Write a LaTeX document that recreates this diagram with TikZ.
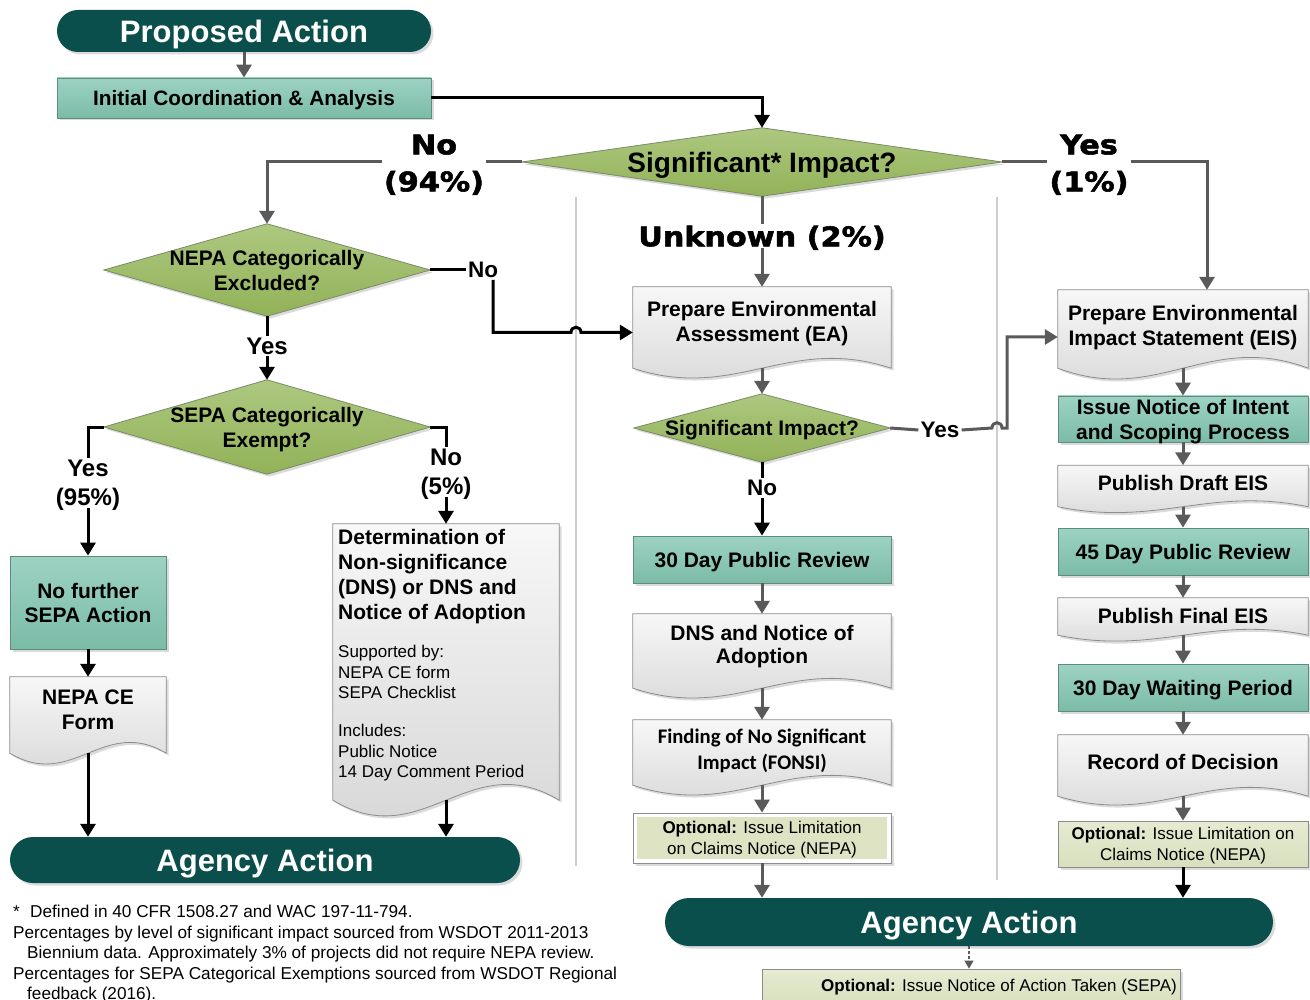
\documentclass[tikz,border=0pt]{standalone}
\usepackage{fontspec}
\setmainfont{Liberation Sans}
\newfontfamily\heavyfont[FakeStretch=1.12,FakeBold=2]{DejaVu Sans}
\newfontfamily\calfont{Carlito}
\usetikzlibrary{arrows.meta,shadows,backgrounds,calc}

\definecolor{dteal}{HTML}{0B4F4C}
\definecolor{tealA}{HTML}{9DD2C2}
\definecolor{tealB}{HTML}{7BBCA7}
\definecolor{tealE}{HTML}{5E8C80}
\definecolor{grnA}{HTML}{ADC880}
\definecolor{grnB}{HTML}{92B258}
\definecolor{grnE}{HTML}{7A8A66}
\definecolor{docA}{HTML}{F7F7F7}
\definecolor{docB}{HTML}{D5D5D5}
\definecolor{docE}{HTML}{8C8C8C}
\definecolor{optA}{HTML}{E6EBD2}
\definecolor{optB}{HTML}{D8DFBD}
\definecolor{optF}{HTML}{DDE3C3}
\definecolor{arrG}{HTML}{5A5A5A}
\definecolor{sepG}{HTML}{CDCDCD}

\newcommand\fsz[2]{\fontsize{#1}{#2}\selectfont}

\tikzset{
  every node/.append style={text depth=0pt},
  shad/.style={drop shadow={opacity=0.28,shadow xshift=2.5pt,shadow yshift=-2.5pt}},
  pill/.style={rectangle,rounded corners=#1,fill=dteal,text=white,inner sep=0pt,
     font=\bfseries\fsz{31}{31},shad},
  tbox/.style={rectangle,top color=tealA,bottom color=tealB,draw=tealE,line width=0.8pt,
     inner sep=0pt,align=center,font=\bfseries\fsz{21}{25},shad},
  frame/.style={rectangle,draw=none,inner sep=0pt,align=center,font=\bfseries\fsz{21}{25}},
  btxt/.style={inner sep=0pt,align=center,font=\bfseries\fsz{21}{25}},
  heavylbl/.style={inner sep=2pt,align=center,font=\heavyfont\bfseries\fsz{27}{37}},
  lbl/.style={inner sep=2pt,align=center,font=\bfseries\fsz{24}{29}},
  optbox/.style={rectangle,top color=optA,bottom color=optB,draw=docE,line width=0.8pt,
     inner sep=0pt,align=center,font=\fsz{17}{21},shad},
  optw/.style={rectangle,fill=white,draw=docE,line width=0.8pt,inner sep=0pt,align=center,
     font=\fsz{17}{21},shad,
     path picture={\fill[optF] ([shift={(3.5pt,-3.5pt)}]path picture bounding box.north west)
        rectangle ([shift={(-4pt,4pt)}]path picture bounding box.south east);}},
  docsty/.style={top color=docA,bottom color=docB,draw=docE,line width=0.8pt,shad},
  diasty/.style={top color=grnA,bottom color=grnB,draw=grnE,line width=0.8pt,shad},
  conn/.style={line width=3pt},
  gline/.style={conn,draw=arrG},
  bline/.style={conn,draw=black},
  garr/.style={gline,-{Triangle[length=13pt,width=15pt]}},
  barr/.style={bline,-{Triangle[length=13pt,width=15pt]}},
  darr/.style={draw=arrG,line width=1.3pt,dash pattern=on 3pt off 2pt,-{Triangle[length=8pt,width=9pt]}},
  sepline/.style={draw=sepG,line width=1.2pt},
}

\newcommand\docdraw[2]{%
  \path[docsty] let \p1=(#1.north west), \p2=(#1.south east) in
    (\x1,\y1) -- (\x2,\y1) -- (\x2,\y2)
    .. controls ({\x2-0.4*(\x2-\x1)},{\y2+3.4*#2}) and ({\x1+0.4*(\x2-\x1)},{\y2-3.4*#2}) .. (\x1,\y2) -- cycle;}
\newcommand\diadraw[1]{\path[diasty] (#1.north) -- (#1.east) -- (#1.south) -- (#1.west) -- cycle;}

\begin{document}
\begin{tikzpicture}[x=1pt,y=-1pt]
\useasboundingbox (0,0) rectangle (1310,1000);

% separators
\draw[sepline] (576,197) -- (576,866);
\draw[sepline] (997,197) -- (997,880);

% ---- top
\node[pill=21pt, minimum width=374pt, minimum height=42pt] (pa) at (244,31) {Proposed Action};
\node[tbox, minimum width=374pt, minimum height=40pt, font=\bfseries\fsz{20.8}{25}] (ica) at (244,98) {Initial Coordination \& Analysis};
\node[frame, minimum width=480pt, minimum height=68pt, font=\bfseries\fsz{28}{28}] (sig) at (762,162) {Significant* Impact?};
\node[heavylbl] (l94) at (434,163) {No\\(94\%)};
\node[heavylbl] (l1) at (1089,163) {Yes\\(1\%)};
\node[heavylbl] (lunk) at (762,236) {Unknown (2\%)};

% ---- left column
\node[frame, minimum width=326pt, minimum height=92pt] (nepa) at (267,270) {NEPA Categorically\\Excluded?};
\node[lbl, font=\bfseries\fsz{22.5}{22}] (lno1) at (483,270) {No};
\node[lbl] (lyes1) at (267,346) {Yes};
\node[frame, minimum width=326pt, minimum height=94pt] (sepa) at (267,427) {SEPA Categorically\\Exempt?};
\node[lbl] (l95) at (88,483) {Yes\\(95\%)};
\node[lbl] (l5) at (446,472) {No\\(5\%)};
\node[tbox, minimum width=156pt, minimum height=93pt, font=\bfseries\fsz{21}{24}] (nof) at (88,602.5) {No further\\SEPA Action};
\node[frame, minimum width=156pt, minimum height=76pt] (ceform) at (88,715) {};
\node[btxt] (ceformT) at (88,709.5) {NEPA CE\\Form};
\node[frame, minimum width=226pt, minimum height=276pt] (det) at (446,662) {};
\node[anchor=north west, inner sep=0pt, align=left, font=\bfseries\fsz{21}{25}] (detT1) at (338,529) {Determination of\\Non-significance\\(DNS) or DNS and\\Notice of Adoption};
\node[anchor=north west, inner sep=0pt, align=left, font=\fsz{17}{20.5}] (detT2) at (338,645) {Supported by:\\NEPA CE form\\SEPA Checklist\\[17.5pt]Includes:\\Public Notice\\14 Day Comment Period};
\node[pill=23pt, minimum width=510pt, minimum height=46pt] (agL) at (265,860) {Agency Action};

% ---- middle column
\node[frame, minimum width=258pt, minimum height=81pt] (ea) at (762,327.5) {};
\node[btxt] (eaT) at (762,321.5) {Prepare Environmental\\Assessment (EA)};
\node[frame, minimum width=256pt, minimum height=68pt] (sig2) at (762,428) {Significant Impact?};
\node[lbl, font=\bfseries\fsz{22.5}{22}] (lyes2) at (940,430) {Yes};
\node[lbl, font=\bfseries\fsz{22.5}{22}] (lno2) at (762,488) {No};
\node[tbox, minimum width=258pt, minimum height=47pt] (pr30) at (762,559.5) {30 Day Public Review};
\node[frame, minimum width=258pt, minimum height=74pt] (dns) at (762,651) {};
\node[btxt, font=\bfseries\fsz{21}{23}] (dnsT) at (762,644.5) {DNS and Notice of\\Adoption};
\node[frame, minimum width=258pt, minimum height=65pt] (fonsi) at (762,752.5) {};
\node[btxt, font=\calfont\bfseries\fsz{20.7}{26}] (fonsiT) at (762,749) {Finding of No Significant\\Impact (FONSI)};
\node[optw, minimum width=258pt, minimum height=50pt] (opt1) at (762,838) {\textbf{Optional:} Issue Limitation\\on Claims Notice (NEPA)};
\node[pill=24pt, minimum width=608pt, minimum height=48pt] (agR) at (969,922) {Agency Action};
\node[optbox, minimum width=418pt, minimum height=36pt] (opt3) at (971,987) {};
\node[inner sep=0pt, font=\fsz{17}{21}] (opt3T) at (999,985) {\textbf{Optional:} Issue Notice of Action Taken (SEPA)};

% ---- right column
\node[frame, minimum width=250pt, minimum height=78pt] (eis) at (1183,329) {};
\node[btxt] (eisT) at (1183,325.5) {Prepare Environmental\\Impact Statement (EIS)};
\node[tbox, minimum width=250pt, minimum height=46pt] (noi) at (1183,419) {Issue Notice of Intent\\and Scoping Process};
\node[frame, minimum width=250pt, minimum height=41pt] (pde) at (1183,486) {};
\node[btxt] (pdeT) at (1183,483) {Publish Draft EIS};
\node[tbox, minimum width=250pt, minimum height=47pt] (pr45) at (1183,551.5) {45 Day Public Review};
\node[frame, minimum width=250pt, minimum height=37pt] (pfe) at (1183,616.5) {};
\node[btxt] (pfeT) at (1183,616) {Publish Final EIS};
\node[tbox, minimum width=250pt, minimum height=47pt] (wait30) at (1183,687.5) {30 Day Waiting Period};
\node[frame, minimum width=250pt, minimum height=61pt] (rod) at (1183,765.5) {};
\node[btxt] (rodT) at (1183,762) {Record of Decision};
\node[optbox, minimum width=250pt, minimum height=46pt] (opt2) at (1183,844) {\textbf{Optional:} Issue Limitation on\\Claims Notice (NEPA)};

% ---- footnotes
\node[anchor=north west, inner sep=0pt, align=left, font=\fsz{17.2}{20.5}] (notes) at (13,905)
 {\makebox[17pt][l]{*}Defined in 40 CFR 1508.27 and WAC 197-11-794.\\
  Percentages by level of significant impact sourced from WSDOT 2011-2013\\
  \hspace*{14pt}Biennium data. Approximately 3\% of projects did not require NEPA review.\\
  Percentages for SEPA Categorical Exemptions sourced from WSDOT Regional\\
  \hspace*{14pt}feedback (2016).};

% ---- hop coordinates
\coordinate (hopA) at (571,332.5);
\coordinate (hopB) at (581,332.5);
\coordinate (hopC) at (992,428);
\coordinate (hopD) at (1002,428);
\coordinate (bendE) at (1007,428);

% ---- connectors
\draw[garr] (pa.south) -- (ica.north);
\draw[barr] (ica.east) -| (sig.north);
\draw[gline] (sig.west) -- (l94.east |- sig.west);
\draw[garr] (l94.west |- sig.west) -| (nepa.north);
\draw[gline] (sig.east) -- (l1.west |- sig.east);
\draw[garr] (l1.east |- sig.east) -| ([xshift=24pt]eis.north);
\draw[gline] (sig.south) -- (lunk.north);
\draw[garr] (lunk.south) -- (ea.north);

\draw[bline] (nepa.east) -- (lno1.west);
\draw[barr] ([xshift=10pt]lno1.south) |- (hopA) .. controls ([yshift=7pt]hopA) and ([yshift=7pt]hopB) .. (hopB) -- ([yshift=-5pt]ea.west);
\draw[bline] (nepa.south) -- (lyes1.north);
\draw[barr] (lyes1.south) -- (sepa.north);
\draw[bline] (sepa.west) -| (l95.north);
\draw[barr] (l95.south) -- (nof.north);
\draw[bline] (sepa.east) -| (l5.north);
\draw[barr] (l5.south) -- (det.north);
\draw[barr] (nof.south) -- (ceform.north);
\draw[barr] (ceform.south) -- (ceform.south |- agL.north);
\draw[barr] (det.south) -- (det.south |- agL.north);

\draw[garr] (ea.south) -- (sig2.north);
\draw[gline] (sig2.east) -- (lyes2.west);
\draw[garr] (lyes2.east) -- (hopC) .. controls ([yshift=7pt]hopC) and ([yshift=7pt]hopD) .. (hopD) -- (bendE) |- ([yshift=-8pt]eis.west);
\draw[bline] (sig2.south) -- (lno2.north);
\draw[barr] (lno2.south) -- (pr30.north);
\draw[garr] (pr30.south) -- (dns.north);
\draw[garr] (dns.south) -- (fonsi.north);
\draw[garr] (fonsi.south) -- (opt1.north);
\draw[garr] (opt1.south) -- (opt1.south |- agR.north);

\draw[garr] (eis.south) -- (noi.north);
\draw[garr] (noi.south) -- (pde.north);
\draw[garr] (pde.south) -- (pr45.north);
\draw[garr] (pr45.south) -- (pfe.north);
\draw[garr] (pfe.south) -- (wait30.north);
\draw[garr] (wait30.south) -- (rod.north);
\draw[garr] (rod.south) -- (opt2.north);
\draw[barr] (opt2.south) -- (opt2.south |- agR.north);
\draw[darr] (agR.south) -- (agR.south |- opt3.north);

% ---- background shapes
\begin{scope}[on background layer]
\fill[white] (0,0) rectangle (1310,1000);
\diadraw{sig}
\diadraw{nepa}
\diadraw{sepa}
\diadraw{sig2}
\docdraw{ceform}{11pt}
\docdraw{det}{16pt}
\docdraw{ea}{10pt}
\docdraw{dns}{10pt}
\docdraw{fonsi}{10pt}
\docdraw{eis}{11pt}
\docdraw{pde}{6pt}
\docdraw{pfe}{6pt}
\docdraw{rod}{9pt}
\end{scope}
\end{tikzpicture}
\end{document}
